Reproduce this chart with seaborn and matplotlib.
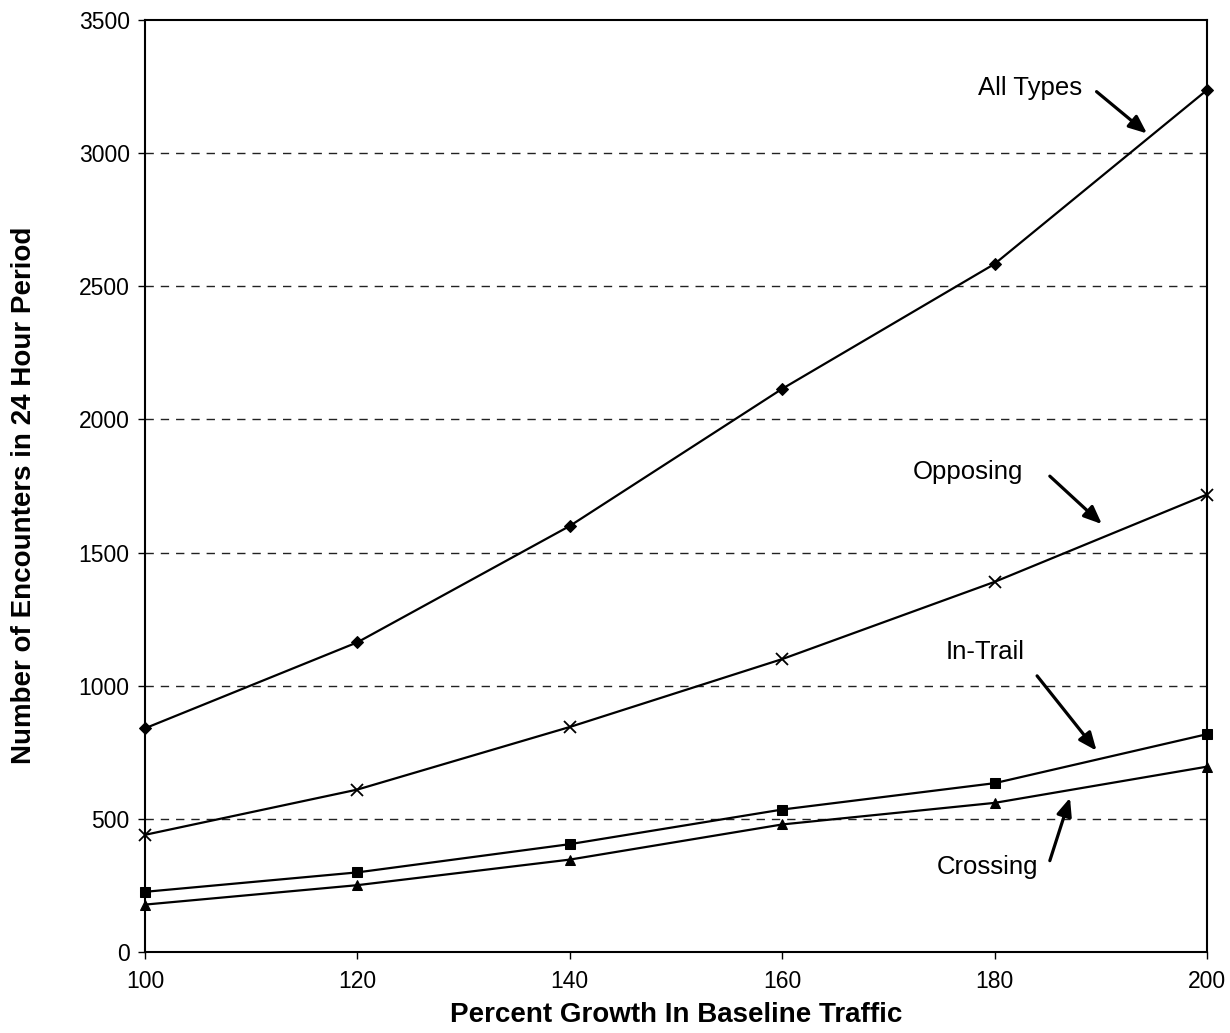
import matplotlib
matplotlib.use("Agg")
import matplotlib.pyplot as plt
import seaborn as sns
import pandas as pd

# Traffic growth levels (percent of baseline)
growth = [100, 120, 140, 160, 180, 200]

# Encounters in a 24 hour period by encounter type
all_types = [840, 1163, 1600, 2115, 2584, 3237]
opposing = [440, 610, 845, 1100, 1390, 1718]
in_trail = [226, 299, 405, 535, 634, 818]
crossing = [178, 251, 347, 479, 560, 696]

series_names = ["All Types", "Opposing", "In-Trail", "Crossing"]
series_values = [all_types, opposing, in_trail, crossing]

y_ticks = [0, 500, 1000, 1500, 2000, 2500, 3000, 3500]
x_ticks = [100, 120, 140, 160, 180, 200]

sns.set_theme(style="white")
plt.rcParams["font.family"] = ["Liberation Sans", "DejaVu Sans"]

fig = plt.figure(figsize=(12.30, 10.33), dpi=100)
ax = fig.add_axes([145 / 1230, 81 / 1033, 1062 / 1230, 932 / 1033])

marker_styles = {
    "All Types": dict(marker="D", markersize=6),
    "Opposing": dict(marker="x", markersize=8, markeredgewidth=1.3),
    "In-Trail": dict(marker="s", markersize=7),
    "Crossing": dict(marker="^", markersize=7),
}

# dashed reference lines
for yv in y_ticks[1:-1]:
    ax.axhline(yv, color="#222222", lw=1.0, ls=(0, (6, 5)), zorder=1)

for name, vals in zip(series_names, series_values):
    df = pd.DataFrame({"growth": growth, "encounters": vals})
    sns.lineplot(
        data=df, x="growth", y="encounters", color="black",
        linewidth=1.6, markeredgecolor="black", markerfacecolor="black",
        ax=ax, zorder=3, clip_on=False, **marker_styles[name],
    )

ax.set_xlim(100, 200)
ax.set_ylim(0, 3500)
ax.set_xticks(x_ticks)
ax.set_yticks(y_ticks)
ax.tick_params(axis="both", which="both", direction="out", length=5,
               width=1.0, color="black", labelsize=16.5, labelcolor="black")
ax.tick_params(axis="x", pad=8)
ax.tick_params(axis="y", pad=6)
ax.tick_params(left=True, bottom=True)

for sp in ax.spines.values():
    sp.set_visible(True)
    sp.set_color("black")
    sp.set_linewidth(1.5)

ax.set_xlabel("Percent Growth In Baseline Traffic", fontsize=20,
              fontweight="bold", color="black")
ax.set_ylabel("Number of Encounters in 24 Hour Period", fontsize=20,
              fontweight="bold", color="black")
ax.xaxis.set_label_coords(0.5005, -0.054)
ax.yaxis.set_label_coords(-0.102, 0.49)

arrow = dict(arrowstyle="-|>,head_length=0.9,head_width=0.38",
             color="black", lw=2.3, shrinkA=0, shrinkB=0)
labels = [
    ("All Types", (183.3, 3243), (189.6, 3231), (194.35, 3074)),
    ("Opposing", (177.5, 1802), (185.2, 1787), (190.1, 1607)),
    ("In-Trail", (179.1, 1127), (184.0, 1037), (189.6, 756)),
    ("Crossing", (179.3, 320), (185.2, 343), (187.1, 579)),
]
for text, tpos, start, end in labels:
    ax.text(tpos[0], tpos[1], text, fontsize=18.5, ha="center", va="center",
            color="black")
    ax.annotate("", xy=end, xytext=start, arrowprops=arrow)

fig.savefig("out.png", dpi=100, facecolor="white")
